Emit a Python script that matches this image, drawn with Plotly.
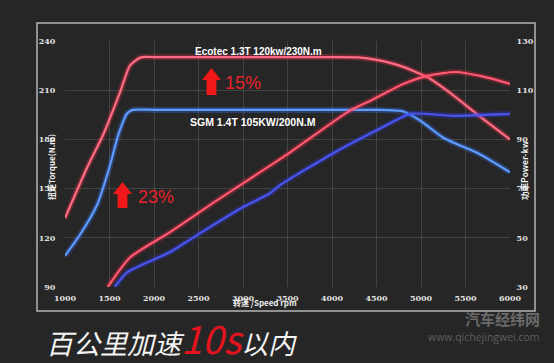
import plotly.graph_objects as go

# ---- data ----
rpm_red_torque = [1000, 1250, 1430, 1620, 1730, 1850, 2000, 2500, 3000, 3500, 4000, 4300, 4500, 4760, 5070, 5360, 5660, 6000]
red_torque = [132, 163, 183, 209, 225, 230, 230.2, 230.2, 230.2, 230.2, 230.2, 230, 228.5, 225, 218, 207, 194, 180]

rpm_blue_torque = [1000, 1170, 1360, 1500, 1600, 1700, 1760, 2000, 3000, 4000, 4500, 4800, 4990, 5250, 5660, 6000]
blue_torque = [109, 122, 140, 163, 183, 196, 198, 198, 198, 198, 198, 197, 191.5, 181, 171, 160]

rpm_red_power = [1480, 1730, 2180, 2740, 3500, 4200, 4430, 4800, 5070, 5400, 5700, 6000]
red_power = [30, 42, 52.3, 66, 84, 101.7, 105.7, 112.5, 115.8, 117.4, 115.5, 112.6]

rpm_blue_power = [1560, 1700, 2180, 2520, 3000, 3300, 3420, 4010, 4540, 4880, 5360, 6000]
blue_power = [30, 36, 44.2, 51.9, 62.5, 68, 71.5, 84.3, 94.4, 100.4, 99.6, 100.4]

x_ticks = [1000, 1500, 2000, 2500, 3000, 3500, 4000, 4500, 5000, 5500, 6000]
torque_ticks = [90, 120, 150, 180, 210, 240]
power_ticks = [30, 50, 70, 90, 110, 130]

# ---- layout geometry ----
W, H = 554, 363
L, R, T, B = 65, 44, 41, 76
PW, PH = W - L - R, H - T - B


def px(x):
    return (x - L) / PW


def py(y):
    return (H - B - y) / PH


fig = go.Figure()


def add_line(xs, ys, color, glow, yaxis):
    fig.add_trace(go.Scatter(x=xs, y=ys, mode="lines", yaxis=yaxis,
                             line=dict(color=glow, width=6, shape="spline", smoothing=0.6),
                             hoverinfo="skip", showlegend=False))
    fig.add_trace(go.Scatter(x=xs, y=ys, mode="lines", yaxis=yaxis,
                             line=dict(color=color, width=2.2, shape="spline", smoothing=0.6),
                             showlegend=False))


add_line(rpm_red_torque, red_torque, "#ff6d84", "rgba(255,50,80,0.28)", "y")
add_line(rpm_blue_torque, blue_torque, "#5c9cff", "rgba(60,120,255,0.28)", "y")
add_line(rpm_red_power, red_power, "#ff5a72", "rgba(255,40,70,0.28)", "y2")
add_line(rpm_blue_power, blue_power, "#4a55f0", "rgba(50,60,240,0.28)", "y2")

tickfont = dict(family="DejaVu Serif", size=8, color="#e0e0e0", weight="bold")
grid = "rgba(255,255,255,0.13)"

fig.update_layout(
    width=W, height=H,
    margin=dict(l=L, r=R, t=T, b=B, pad=0),
    paper_bgcolor="#262626", plot_bgcolor="#262626",
    showlegend=False,
    xaxis=dict(range=[1000, 6000], tickvals=x_ticks, ticktext=[str(v) for v in x_ticks],
               showgrid=True, gridcolor=grid, gridwidth=1, zeroline=False,
               ticks="outside", ticklen=3, tickcolor="rgba(0,0,0,0)",
               tickfont=tickfont, showline=False),
    yaxis=dict(range=[90, 240], tickvals=torque_ticks, ticktext=[str(v) for v in torque_ticks],
               showgrid=True, gridcolor=grid, gridwidth=1, zeroline=False,
               ticks="outside", ticklen=7, tickcolor="rgba(0,0,0,0)",
               tickfont=tickfont, showline=False),
    yaxis2=dict(range=[30, 130], tickvals=power_ticks, ticktext=[str(v) for v in power_ticks],
                overlaying="y", side="right", showgrid=False, zeroline=False,
                ticks="outside", ticklen=4, tickcolor="rgba(0,0,0,0)",
                tickfont=tickfont, showline=False),
)

shapes = []
# outer frame
shapes.append(dict(type="rect", xref="paper", yref="paper",
                   x0=px(37), x1=px(535), y0=py(311), y1=py(23),
                   line=dict(color="#b5b5b5", width=1.5), fillcolor="rgba(0,0,0,0)", layer="below"))


def arrow(x0, x1, ytop, yneck, ybot):
    cx = (x0 + x1) / 2
    sw = (x1 - x0) * 0.26
    pts = [(cx, ytop), (x1, yneck), (cx + sw, yneck), (cx + sw, ybot),
           (cx - sw, ybot), (cx - sw, yneck), (x0, yneck)]
    path = "M " + " L ".join(f"{px(a):.5f},{py(b):.5f}" for a, b in pts) + " Z"
    return dict(type="path", xref="paper", yref="paper", path=path,
                fillcolor="#f01818", line=dict(width=0))


shapes.append(arrow(202, 221, 68, 80, 95))
shapes.append(arrow(113, 132, 182, 194, 208))
fig.update_layout(shapes=shapes)

ann = []


def text(x, y, s, size, color, family="Liberation Sans", weight="normal", angle=0,
         xanchor="center", yanchor="middle", style="normal"):
    ann.append(dict(x=px(x), y=py(y), xref="paper", yref="paper", text=s, showarrow=False,
                    xanchor=xanchor, yanchor=yanchor, textangle=angle,
                    font=dict(family=family, size=size, color=color, weight=weight, style=style)))


text(258, 51, "Ecotec 1.3T 120kw/230N.m", 10, "#ffffff", weight="bold")
text(253, 122, "SGM 1.4T 105KW/200N.M", 10.5, "#ffffff", weight="bold")
text(223, 83, "15%", 18, "#e8222a", xanchor="left")
text(136, 197, "23%", 18, "#e8222a", xanchor="left")
text(51, 167, "扭矩Torque(N.m)", 8, "#f0f0f0", family="Noto Sans CJK SC", weight="bold", angle=-90)
text(524, 170, "功率Power-kw", 8.5, "#f0f0f0", family="Noto Sans CJK SC", weight="bold", angle=-90)
text(265, 302, "转速 /Speed rpm", 8, "#f0f0f0", family="Noto Sans CJK SC", weight="bold")
text(44, 337,
     "<i>百公里加速<span style='color:#e3141e;font-size:38px'>10s</span>以内</i>",
     27, "#f4f4f4", family="Noto Sans CJK SC", xanchor="left")
text(542, 318, "汽车经纬网", 15, "#6a6a6a", family="Noto Sans CJK SC", weight="bold", xanchor="right")
text(542, 337, "www.qichejingwei.com", 10.5, "#5e5e5e", family="Open Sans", xanchor="right")
fig.update_layout(annotations=ann)

fig.write_html("out.html")
